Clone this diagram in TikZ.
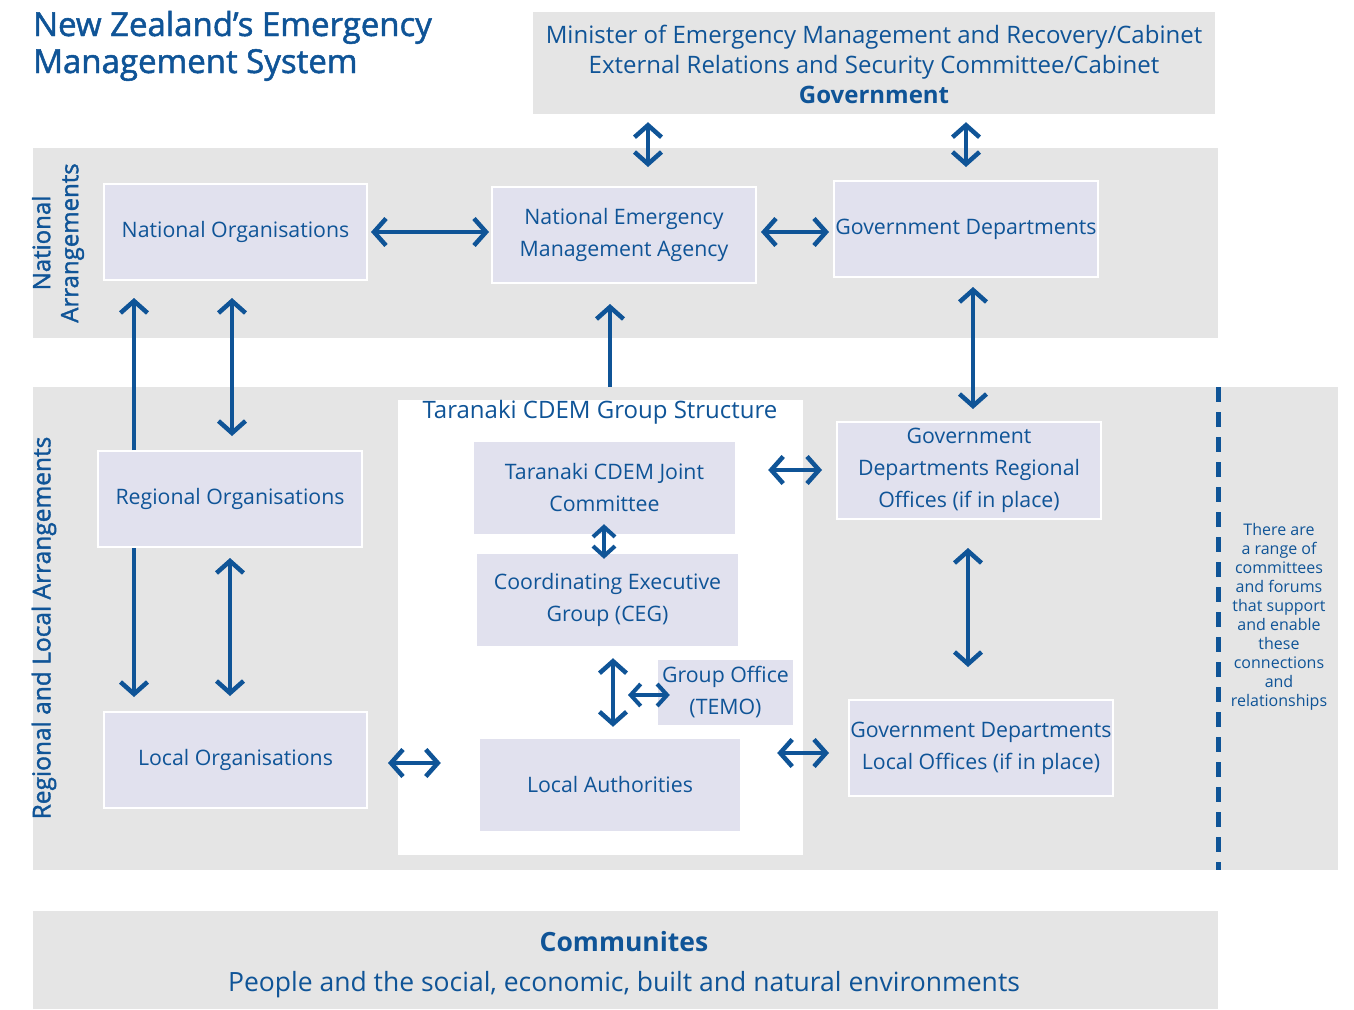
\documentclass[tikz,border=0pt]{standalone}
\usepackage{fontspec}
\setmainfont{Open Sans}
\newfontfamily\semib[FakeBold=1.5]{Open Sans}
\usetikzlibrary{arrows.meta}
\definecolor{nzblue}{HTML}{0F5497}
\definecolor{band}{HTML}{E5E5E5}
\definecolor{boxfill}{HTML}{E1E1EE}
\begin{document}
\begin{tikzpicture}[x=1pt,y=-1pt,
  bandbox/.style={fill=band,draw=none,inner sep=0pt},
  orgbox/.style={fill=boxfill,draw=white,line width=2pt,text=nzblue,align=center,
    font=\fontsize{21.3}{32}\selectfont,inner sep=0pt},
  panelbox/.style={fill=boxfill,draw=none,text=nzblue,align=center,
    font=\fontsize{21.3}{32}\selectfont,inner sep=0pt},
  lbl/.style={text=nzblue,align=center,inner sep=0pt},
  dbl/.style={{Straight Barb[length=12pt,width=27pt]}-{Straight Barb[length=12pt,width=27pt]},
    line width=4.5pt,draw=nzblue},
  sgl/.style={-{Straight Barb[length=12pt,width=27pt]},line width=4.5pt,draw=nzblue},
  dbls/.style={{Straight Barb[length=10pt,width=22pt]}-{Straight Barb[length=10pt,width=22pt]},
    line width=4pt,draw=nzblue}]
\useasboundingbox (0,0) rectangle (1354,1009);
\fill[white] (0,0) rectangle (1354,1009);

% title
\node[lbl,anchor=base west,font=\fontsize{33}{38}\selectfont\semib] (t1) at (33,36) {New Zealand’s Emergency};
\node[lbl,anchor=base west,font=\fontsize{33}{38}\selectfont\semib] (t2) at (33,73) {Management System};

% bands
\node[bandbox,minimum width=682,minimum height=102] (gov) at (874,63) {};
\node[lbl,font=\fontsize{24}{30}\selectfont] (govtxt) at (874,64)
  {Minister of Emergency Management and Recovery/Cabinet\\External Relations and Security Committee/Cabinet\\{\bfseries Government}};
\node[bandbox,minimum width=1185,minimum height=190] (natband) at (625.5,243) {};
\node[bandbox,minimum width=1305,minimum height=483] (regband) at (685.5,628.5) {};
\node[bandbox,minimum width=1185,minimum height=98] (comm) at (625.5,960) {};
\node[lbl,font=\fontsize{26.5}{40}\selectfont] (commtxt) at (624,965)
  {{\bfseries Communites}\\People and the social, economic, built and natural environments};

% side labels
\node[lbl,rotate=90,font=\fontsize{24}{28}\selectfont\semib] (natlbl) at (58,243) {National\\Arrangements};
\node[lbl,rotate=90,font=\fontsize{24.5}{28}\selectfont\semib] (reglbl) at (44,628) {Regional and Local Arrangements};

% Taranaki panel
\node[fill=white,draw=none,minimum width=405,minimum height=455,inner sep=0pt] (panel) at (600.5,627.5) {};
\node[lbl,font=\fontsize{24}{28}\selectfont] (paneltitle) at (600,412) {Taranaki CDEM Group Structure};

% boxes
\node[orgbox,minimum width=263,minimum height=96] (natorg) at (235.5,232) {National Organisations};
\node[orgbox,minimum width=264,minimum height=96] (nema) at (624,235) {National Emergency\\Management Agency};
\node[orgbox,minimum width=264,minimum height=96] (govdep) at (966,229) {Government Departments};
\node[orgbox,minimum width=264,minimum height=96] (regorg) at (230,499) {Regional Organisations};
\node[orgbox,minimum width=263,minimum height=96] (locorg) at (235.5,760) {Local Organisations};
\node[orgbox,minimum width=264,minimum height=97] (regoff) at (969,470.5) {Government\\Departments Regional\\Offices (if in place)};
\node[orgbox,minimum width=264,minimum height=96] (locoff) at (981,748) {Government Departments\\Local Offices (if in place)};
\node[panelbox,minimum width=261,minimum height=92] (jc) at (604.5,488) {Taranaki CDEM Joint\\Committee};
\node[panelbox,minimum width=261,minimum height=92] (ceg) at (607.5,600) {Coordinating Executive\\Group (CEG)};
\node[panelbox,minimum width=135,minimum height=65] (temo) at (725.5,692.5) {Group Office\\(TEMO)};
\node[panelbox,minimum width=260,minimum height=92] (locauth) at (610,785) {Local Authorities};

% helper coordinates
\coordinate (c648) at (648,0);
\coordinate (c966) at (966,0);
\coordinate (c134) at (134,0);
\coordinate (c232) at (232,0);
\coordinate (c610) at (610,0);
\coordinate (c973) at (973,0);
\coordinate (c230) at (230,0);
\coordinate (c968) at (968,0);
\coordinate (c604) at (604,0);
\coordinate (c613) at (613,0);
\coordinate (r232) at (0,232);
\coordinate (r470) at (0,470);
\coordinate (r763) at (0,763);
\coordinate (r753) at (0,753);
\coordinate (temoL) at (628,695);

% connectors
\draw[dbl,shorten <=8,shorten >=19] (gov.south -| c648) -- (nema.north -| c648);
\draw[dbl,shorten <=8,shorten >=13] (gov.south -| c966) -- (govdep.north -| c966);
\draw[dbl,shorten <=3,shorten >=2] (natorg.east |- r232) -- (nema.west |- r232);
\draw[dbl,shorten <=4,shorten >=4] (nema.east |- r232) -- (govdep.west |- r232);
\draw[sgl,shorten >=17] (regorg.north -| c134) -- (natorg.south -| c134);
\draw[dbl,shorten <=17,shorten >=14] (natorg.south -| c232) -- (regorg.north -| c232);
\draw[sgl,shorten >=20] (regband.north -| c610) -- (nema.south -| c610);
\draw[dbl,shorten <=9,shorten >=12] (govdep.south -| c973) -- (regoff.north -| c973);
\draw[dbl,shorten <=33,shorten >=14] (jc.east |- r470) -- (regoff.west |- r470);
\draw[dbls,shorten <=-10,shorten >=-5] (jc.south -| c604) -- (ceg.north -| c604);
\draw[sgl,shorten >=14] (regorg.south -| c134) -- (locorg.north -| c134);
\draw[dbl,shorten <=10,shorten >=15] (regorg.south -| c230) -- (locorg.north -| c230);
\draw[dbl,shorten <=28,shorten >=32] (regoff.south -| c968) -- (locoff.north -| c968);
\draw[dbl,shorten <=12,shorten >=12] (ceg.south -| c613) -- (locauth.north -| c613);
\draw[dbls,shorten >=-12] (temoL) -- (temo.west |- temoL);
\draw[dbl,shorten <=20,shorten >=39] (locorg.east |- r763) -- (locauth.west |- r763);
\draw[dbl,shorten <=37,shorten >=19] (locauth.east |- r753) -- (locoff.west |- r753);

% dashed divider and note
\coordinate (dtop) at (1218,387);
\draw[nzblue,line width=5pt,dash pattern=on 15pt off 10pt] (dtop) -- (regband.south -| dtop);
\node[lbl,font=\fontsize{16}{19}\selectfont] (note) at (1279,617)
  {There are\\a range of\\committees\\and forums\\that support\\and enable\\these\\connections\\and\\relationships};
\end{tikzpicture}
\end{document}
